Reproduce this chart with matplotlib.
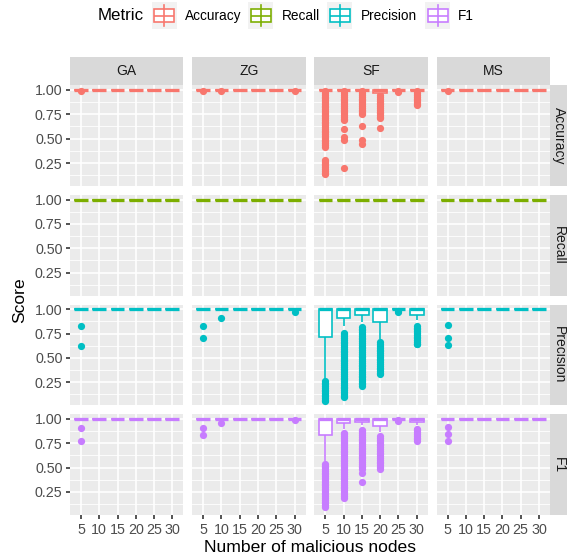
import matplotlib
matplotlib.use("Agg")
import matplotlib.pyplot as plt
from matplotlib.patches import Rectangle
from matplotlib.lines import Line2D

plt.rcParams['font.family'] = ['Liberation Sans', 'DejaVu Sans']

# ---------------- data ----------------
NODES = [5, 10, 15, 20, 25, 30]
ALGOS = ["GA", "ZG", "SF", "MS"]
METRICS = ["Accuracy", "Recall", "Precision", "F1"]
METRIC_COLORS = ["#F8766D", "#7CAE00", "#00BFC4", "#C77CFF"]
Y_TICKS = [0.25, 0.50, 0.75, 1.00]
Y_TICK_LABELS = ["0.25", "0.50", "0.75", "1.00"]

# box stats per node count: (whisker low, q1, median, q3, whisker high)
FULL = (1.0, 1.0, 1.0, 1.0, 1.0)
SF_ACC_BOX = [FULL, FULL, FULL, (0.96, 0.97, 1.0, 1.0, 1.0), FULL, FULL]
SF_PRE_BOX = [(0.28, 0.72, 1.0, 1.0, 1.0), (0.83, 0.915, 1.0, 1.0, 1.0),
              (0.87, 0.94, 1.0, 1.0, 1.0), (0.69, 0.87, 1.0, 1.0, 1.0),
              FULL, (0.885, 0.94, 1.0, 1.0, 1.0)]
SF_F1_BOX = [(0.57, 0.833, 1.0, 1.0, 1.0), (0.90, 0.955, 1.0, 1.0, 1.0),
             (0.94, 0.965, 1.0, 1.0, 1.0), (0.87, 0.927, 1.0, 1.0, 1.0),
             FULL, (0.94, 0.965, 1.0, 1.0, 1.0)]

# outliers per node count
GA_ACC_OUT = [[0.988], [], [], [], [], []]
ZG_ACC_OUT = [[0.988], [0.988], [], [], [], [0.988]]
MS_ACC_OUT = [[0.988], [], [], [], [], []]
SF_ACC_OUT = [
    [0.985, 0.968, 0.95, 0.931, 0.914, 0.895, 0.877, 0.858, 0.84, 0.822, 0.803,
     0.785, 0.766, 0.748, 0.73, 0.711, 0.693, 0.674, 0.656, 0.638, 0.619, 0.6,
     0.582, 0.564, 0.545, 0.527, 0.508, 0.49, 0.472, 0.453, 0.435, 0.418,
     0.281, 0.262, 0.243, 0.225, 0.206, 0.188, 0.17, 0.152, 0.14],
    [0.985, 0.966, 0.947, 0.929, 0.91, 0.892, 0.873, 0.855, 0.836, 0.818, 0.799,
     0.781, 0.762, 0.744, 0.725, 0.707, 0.69, 0.60, 0.52, 0.49, 0.20],
    [0.985, 0.966, 0.947, 0.929, 0.91, 0.892, 0.873, 0.855, 0.836, 0.818, 0.799,
     0.781, 0.765, 0.75, 0.63, 0.49, 0.445],
    [0.945, 0.927, 0.908, 0.89, 0.871, 0.853, 0.834, 0.816, 0.797, 0.779, 0.76,
     0.742, 0.725, 0.715, 0.61],
    [0.985, 0.975],
    [0.985, 0.967, 0.948, 0.93, 0.911, 0.893, 0.874, 0.856, 0.85],
]
NO_OUT = [[], [], [], [], [], []]
GA_PRE_OUT = [[0.833, 0.625], [], [], [], [], []]
ZG_PRE_OUT = [[0.833, 0.71], [0.91], [], [], [], [0.97]]
MS_PRE_OUT = [[0.84, 0.71, 0.63], [], [], [], [], []]
SF_PRE_OUT = [
    [0.262, 0.245, 0.228, 0.21, 0.193, 0.176, 0.158, 0.141, 0.124, 0.106, 0.089,
     0.072, 0.06],
    [0.76, 0.742, 0.723, 0.705, 0.686, 0.668, 0.649, 0.631, 0.612, 0.594, 0.575,
     0.557, 0.538, 0.52, 0.501, 0.483, 0.464, 0.446, 0.427, 0.409, 0.39, 0.372,
     0.353, 0.335, 0.316, 0.298, 0.279, 0.261, 0.242, 0.224, 0.205, 0.187,
     0.168, 0.15, 0.131, 0.113, 0.10],
    [0.82, 0.801, 0.783, 0.764, 0.746, 0.727, 0.709, 0.69, 0.672, 0.653, 0.635,
     0.616, 0.598, 0.579, 0.561, 0.542, 0.524, 0.505, 0.487, 0.468, 0.45, 0.431,
     0.413, 0.394, 0.376, 0.357, 0.339, 0.32, 0.302, 0.283, 0.265, 0.246,
     0.228, 0.21],
    [0.66, 0.641, 0.623, 0.604, 0.586, 0.567, 0.549, 0.53, 0.512, 0.493, 0.475,
     0.456, 0.438, 0.419, 0.401, 0.382, 0.364, 0.345, 0.34],
    [0.985, 0.97],
    [0.83, 0.811, 0.793, 0.774, 0.756, 0.737, 0.719, 0.70, 0.682, 0.663, 0.645,
     0.64],
]
GA_F1_OUT = [[0.91, 0.77], [], [], [], [], []]
ZG_F1_OUT = [[0.91, 0.83], [0.955], [], [], [], [0.985]]
MS_F1_OUT = [[0.92, 0.84, 0.77], [], [], [], [], []]
SF_F1_OUT = [
    [0.54, 0.521, 0.503, 0.484, 0.466, 0.447, 0.429, 0.41, 0.392, 0.373, 0.355,
     0.336, 0.318, 0.299, 0.281, 0.262, 0.244, 0.225, 0.207, 0.188, 0.17, 0.151,
     0.133, 0.114, 0.094],
    [0.86, 0.841, 0.823, 0.804, 0.786, 0.767, 0.749, 0.73, 0.712, 0.693, 0.675,
     0.656, 0.638, 0.619, 0.601, 0.582, 0.564, 0.545, 0.527, 0.508, 0.49, 0.471,
     0.453, 0.434, 0.416, 0.397, 0.379, 0.36, 0.342, 0.323, 0.305, 0.286,
     0.268, 0.249, 0.231, 0.212, 0.19],
    [0.89, 0.871, 0.853, 0.834, 0.816, 0.797, 0.779, 0.76, 0.742, 0.723, 0.705,
     0.686, 0.668, 0.649, 0.631, 0.612, 0.594, 0.575, 0.557, 0.538, 0.52, 0.501,
     0.49, 0.445, 0.355],
    [0.82, 0.801, 0.783, 0.764, 0.746, 0.727, 0.709, 0.69, 0.672, 0.653, 0.635,
     0.616, 0.598, 0.579, 0.561, 0.542, 0.524, 0.505, 0.49],
    [0.985, 0.975],
    [0.90, 0.881, 0.863, 0.844, 0.826, 0.807, 0.789, 0.775],
]

ALL_FULL = [FULL] * 6
BOXES = {
    ("Accuracy", "GA"): ALL_FULL, ("Accuracy", "ZG"): ALL_FULL,
    ("Accuracy", "SF"): SF_ACC_BOX, ("Accuracy", "MS"): ALL_FULL,
    ("Recall", "GA"): ALL_FULL, ("Recall", "ZG"): ALL_FULL,
    ("Recall", "SF"): ALL_FULL, ("Recall", "MS"): ALL_FULL,
    ("Precision", "GA"): ALL_FULL, ("Precision", "ZG"): ALL_FULL,
    ("Precision", "SF"): SF_PRE_BOX, ("Precision", "MS"): ALL_FULL,
    ("F1", "GA"): ALL_FULL, ("F1", "ZG"): ALL_FULL,
    ("F1", "SF"): SF_F1_BOX, ("F1", "MS"): ALL_FULL,
}
OUTS = {
    ("Accuracy", "GA"): GA_ACC_OUT, ("Accuracy", "ZG"): ZG_ACC_OUT,
    ("Accuracy", "SF"): SF_ACC_OUT, ("Accuracy", "MS"): MS_ACC_OUT,
    ("Recall", "GA"): NO_OUT, ("Recall", "ZG"): NO_OUT,
    ("Recall", "SF"): NO_OUT, ("Recall", "MS"): NO_OUT,
    ("Precision", "GA"): GA_PRE_OUT, ("Precision", "ZG"): ZG_PRE_OUT,
    ("Precision", "SF"): SF_PRE_OUT, ("Precision", "MS"): MS_PRE_OUT,
    ("F1", "GA"): GA_F1_OUT, ("F1", "ZG"): ZG_F1_OUT,
    ("F1", "SF"): SF_F1_OUT, ("F1", "MS"): MS_F1_OUT,
}

# ---------------- layout ----------------
W, H, DPI = 567, 559, 100
fig = plt.figure(figsize=(W / DPI, H / DPI), dpi=DPI)
fig.patch.set_facecolor("white")

def fx(x):
    return x / W

def fy(y):
    return 1 - y / H

COL_LEFT = [70.0, 192.2, 314.4, 436.6]
PANEL_W = 113.3
ROW_TOP = [85.4, 195.0, 304.7, 414.3]
PANEL_H = 100.7

BOX_LW = 1.18
MED_LW = 2.36
PANEL_BG = "#EBEBEB"
STRIP_BG = "#D9D9D9"
TICK_FS = 10.3
STRIP_FS = 10.0
TITLE_FS = 12.6

# y-limits like ggplot: data range expanded by 5 %
all_vals = []
for key in BOXES:
    for b in BOXES[key]:
        all_vals.extend(b)
    for o in OUTS[key]:
        all_vals.extend(o)
ymin, ymax = min(all_vals), max(all_vals)
pad = 0.05 * (ymax - ymin)
YLIM = (ymin - pad, ymax + pad)
minor_y = [0.125, 0.375, 0.625, 0.875]

positions = list(range(1, len(NODES) + 1))

for r, metric in enumerate(METRICS):
    color = METRIC_COLORS[r]
    for c, algo in enumerate(ALGOS):
        ax = fig.add_axes([fx(COL_LEFT[c]), fy(ROW_TOP[r] + PANEL_H),
                           PANEL_W / W, PANEL_H / H])
        ax.set_facecolor(PANEL_BG)
        for s in ax.spines.values():
            s.set_visible(False)
        ax.set_axisbelow(True)

        stats = []
        for i, b in enumerate(BOXES[(metric, algo)]):
            stats.append(dict(whislo=b[0], q1=b[1], med=b[2], q3=b[3],
                              whishi=b[4], fliers=OUTS[(metric, algo)][i]))
        ax.bxp(stats, positions=positions, widths=0.75, patch_artist=True,
               showcaps=False, manage_ticks=False,
               boxprops=dict(facecolor="white", edgecolor=color,
                             linewidth=BOX_LW, zorder=2.2),
               whiskerprops=dict(color=color, linewidth=BOX_LW,
                                 solid_capstyle="butt", zorder=2.1),
               medianprops=dict(color=color, linewidth=MED_LW,
                                solid_capstyle="butt", zorder=2.3),
               flierprops=dict(marker="o", markerfacecolor=color,
                               markeredgecolor=color, markeredgewidth=0,
                               markersize=5.2, linestyle="none", zorder=2.0))

        ax.set_xlim(0.4, len(NODES) + 0.6)
        ax.set_ylim(*YLIM)
        ax.set_yticks(Y_TICKS)
        ax.set_yticks(minor_y, minor=True)
        ax.set_xticks(positions)
        ax.grid(which="major", color="white", linewidth=1.18)
        ax.grid(which="minor", axis="y", color="white", linewidth=0.59)
        ax.tick_params(which="minor", length=0)
        ax.tick_params(which="major", length=3.0, width=1.18, color="#333333",
                       labelcolor="#4D4D4D", labelsize=TICK_FS, pad=2.4)
        if c == 0:
            ax.set_yticklabels(Y_TICK_LABELS)
        else:
            ax.tick_params(axis="y", length=0, labelleft=False)
        if r == len(METRICS) - 1:
            ax.set_xticklabels([str(n) for n in NODES])
        else:
            ax.tick_params(axis="x", length=0, labelbottom=False)

# top strips
for c, algo in enumerate(ALGOS):
    fig.add_artist(Rectangle((fx(COL_LEFT[c]), fy(85.0)), PANEL_W / W, 28.0 / H,
                             transform=fig.transFigure, facecolor=STRIP_BG,
                             edgecolor="none"))
    fig.text(fx(COL_LEFT[c] + PANEL_W / 2), fy(71.0), algo, ha="center",
             va="center", fontsize=STRIP_FS, color="#1A1A1A")

# right strips
for r, metric in enumerate(METRICS):
    fig.add_artist(Rectangle((fx(550.3), fy(ROW_TOP[r] + PANEL_H)), 28.0 / W,
                             PANEL_H / H, transform=fig.transFigure,
                             facecolor=STRIP_BG, edgecolor="none"))
    fig.text(fx(559.0), fy(ROW_TOP[r] + PANEL_H / 2), metric, rotation=-90,
             ha="center", va="center", fontsize=STRIP_FS, color="#1A1A1A")

# axis titles
fig.text(fx(20.0), fy((ROW_TOP[0] + ROW_TOP[3] + PANEL_H) / 2), "Score",
         rotation=90, ha="center", va="center", fontsize=TITLE_FS, color="black")
fig.text(fx((COL_LEFT[0] + COL_LEFT[3] + PANEL_W) / 2), fy(547.0),
         "Number of malicious nodes", ha="center", va="center",
         fontsize=TITLE_FS, color="black")

# legend
fig.text(fx(98.0), fy(16.0), "Metric", ha="left", va="center", fontsize=12.2,
         color="black")
KEY_X = [151.7, 248.3, 327.3, 425.0]
KEY_W, KEY_TOP, KEY_H = 25.0, 2.0, 27.0
for k, metric in enumerate(METRICS):
    col = METRIC_COLORS[k]
    x0 = KEY_X[k]
    fig.add_artist(Rectangle((fx(x0), fy(KEY_TOP + KEY_H)), KEY_W / W, KEY_H / H,
                             transform=fig.transFigure, facecolor="#F2F2F2",
                             edgecolor="none"))
    cx = x0 + KEY_W / 2
    fig.add_artist(Line2D([fx(cx), fx(cx)],
                          [fy(KEY_TOP + 0.1 * KEY_H), fy(KEY_TOP + 0.9 * KEY_H)],
                          transform=fig.transFigure, color=col, linewidth=BOX_LW))
    fig.add_artist(Rectangle((fx(x0 + 0.1 * KEY_W), fy(KEY_TOP + 0.75 * KEY_H)),
                             0.8 * KEY_W / W, 0.5 * KEY_H / H,
                             transform=fig.transFigure, facecolor="white",
                             edgecolor=col, linewidth=BOX_LW))
    fig.add_artist(Line2D([fx(x0 + 0.1 * KEY_W), fx(x0 + 0.9 * KEY_W)],
                          [fy(KEY_TOP + 0.5 * KEY_H), fy(KEY_TOP + 0.5 * KEY_H)],
                          transform=fig.transFigure, color=col, linewidth=BOX_LW,
                          solid_capstyle="butt"))
    fig.text(fx(x0 + KEY_W + 8.3), fy(16.0), metric, ha="left", va="center",
             fontsize=9.8, color="black")

fig.savefig("out.png", dpi=DPI)
